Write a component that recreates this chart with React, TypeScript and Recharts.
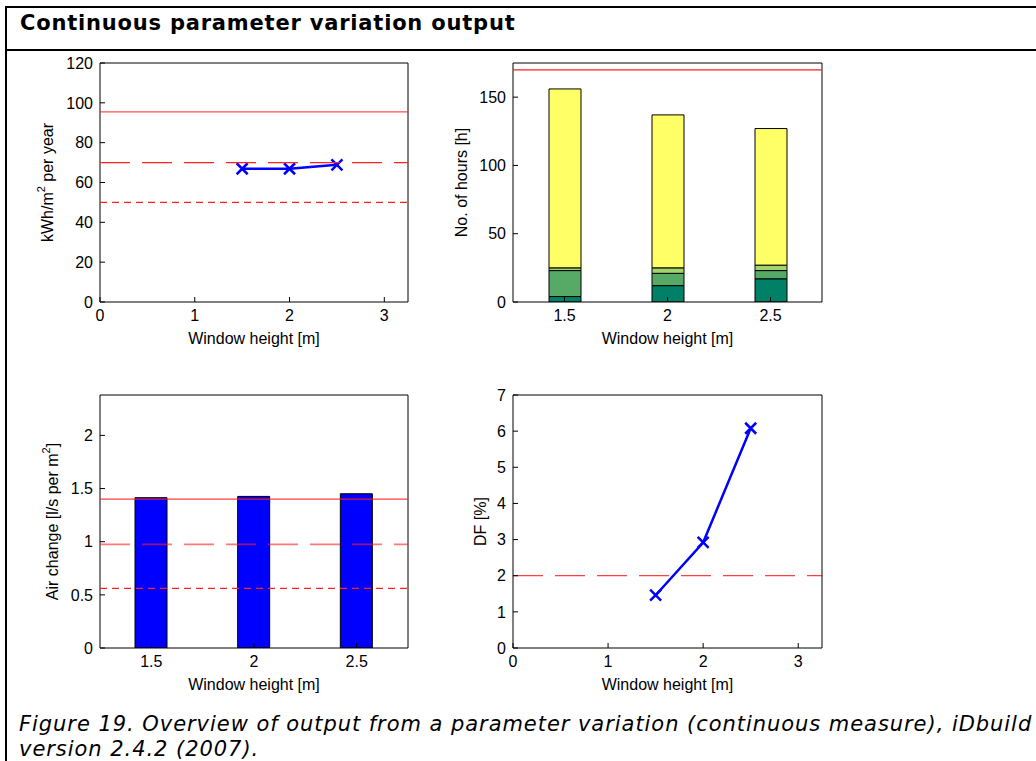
import React from 'react';
import { LineChart, Line, BarChart, Bar, XAxis, YAxis, ReferenceLine, Label } from 'recharts';

// ---------- data ----------
const windowHeights = [1.5, 2, 2.5];
const windowCats = ['1.5', '2', '2.5'];

const energyValues = [66.9, 66.9, 68.9];
const energyRefSolid = 95.5;
const energyRefLong = 70;
const energyRefShort = 50;
const energyYTicks = [0, 20, 40, 60, 80, 100, 120];

const hoursDark = [4, 12, 17];
const hoursMid = [19, 9, 6];
const hoursLight = [2, 4, 4];
const hoursYellow = [131, 112, 100];
const hoursLimit = 170;
const hoursYTicks = [0, 50, 100, 150];

const airValues = [1.414, 1.426, 1.451];
const airRefSolid = 1.4;
const airRefLong = 0.975;
const airRefShort = 0.56;
const airYTicks = [0, 0.5, 1, 1.5, 2];

const dfValues = [1.46, 2.92, 6.08];
const dfRef = 2;
const dfYTicks = [0, 1, 2, 3, 4, 5, 6, 7];

const xNumTicks = [0, 1, 2, 3];

const energyData = windowHeights.map((x, i) => ({ x, y: energyValues[i] }));
const dfData = windowHeights.map((x, i) => ({ x, y: dfValues[i] }));
const hoursData = windowCats.map((x, i) => ({
  x,
  dark: hoursDark[i],
  mid: hoursMid[i],
  light: hoursLight[i],
  yellow: hoursYellow[i],
}));
const airData = windowCats.map((x, i) => ({ x, v: airValues[i] }));

// ---------- styles ----------
const FONT = '"Liberation Sans", Arial, sans-serif';
const tickStyle = { fontSize: 16, fill: '#000', fontFamily: FONT };
const RED = '#ff2020';
const LONG_DASH = '30 12';
const SHORT_DASH = '7 5';
const M = { top: 0, right: 0, bottom: 0, left: 0 };

function XMark(props: any) {
  const { cx, cy } = props;
  if (cx == null || cy == null) return null;
  const s = 5.5;
  return (
    <path
      d={`M${cx - s},${cy - s}L${cx + s},${cy + s}M${cx - s},${cy + s}L${cx + s},${cy - s}`}
      stroke="#0000ff"
      strokeWidth={2.5}
      fill="none"
    />
  );
}

const yLabel = (parts: React.ReactNode, dx: number) => (props: any) => {
  const vb = props.viewBox || {};
  const cx = vb.x + dx;
  const cy = vb.y + vb.height / 2;
  return (
    <text
      x={cx}
      y={cy}
      transform={`rotate(-90 ${cx} ${cy})`}
      textAnchor="middle"
      dominantBaseline="central"
      fontSize={16}
      fontFamily={FONT}
      fill="#000"
    >
      {parts}
    </text>
  );
};

const xLabel = (text: string) => (props: any) => {
  const vb = props.viewBox || {};
  const cx = vb.x + vb.width / 2;
  const cy = vb.y + 36;
  return (
    <text x={cx} y={cy} textAnchor="middle" dominantBaseline="central" fontSize={16} fontFamily={FONT} fill="#000">
      {text}
    </text>
  );
};

const sup = (base: string, tail: string) => (
  <>
    {base}
    <tspan dy={-6} fontSize={11}>2</tspan>
    <tspan dy={6}>{tail}</tspan>
  </>
);

const box: React.CSSProperties = { position: 'absolute' };
const onTop: any = { zIndex: 1000 };

export default function App() {
  return (
    <div style={{ position: 'absolute', left: 0, top: 0, width: 1036, height: 761, background: '#fff', overflow: 'hidden' }}>
      {/* frame */}
      <div style={{ ...box, left: 5, top: 6, width: 2, height: 755, background: '#000' }} />
      <div style={{ ...box, left: 5, top: 6, width: 1031, height: 2, background: '#000' }} />
      <div style={{ ...box, left: 5, top: 49, width: 1031, height: 2, background: '#000' }} />
      <div
        style={{
          ...box,
          left: 20,
          top: 8,
          height: 30,
          lineHeight: '30px',
          fontFamily: '"DejaVu Sans", Verdana, sans-serif',
          fontWeight: 'bold',
          fontSize: 21,
          letterSpacing: 0.8,
          whiteSpace: 'nowrap',
          color: '#000',
        }}
      >
        Continuous parameter variation output
      </div>

      {/* Top-left: energy */}
      <div style={{ ...box, left: 0, top: 50 }}>
        <LineChart width={420} height={300} data={energyData} margin={M}>
          <XAxis xAxisId={0} type="number" dataKey="x" domain={[0, 3.25]} ticks={xNumTicks} interval={0} height={48}
            tickSize={-5} tickMargin={13} tick={tickStyle} stroke="#000" allowDataOverflow>
            <Label content={xLabel('Window height [m]')} />
          </XAxis>
          <XAxis xAxisId="top" orientation="top" type="number" dataKey="x" domain={[0, 3.25]} ticks={xNumTicks} interval={0}
            height={13} tickSize={-5} tick={false} stroke="#000" allowDataOverflow />
          <YAxis yAxisId={0} type="number" domain={[0, 120]} ticks={energyYTicks} interval={0} width={100}
            tickSize={-5} tickMargin={12} tick={tickStyle} stroke="#000" allowDataOverflow>
            <Label content={yLabel(sup('kWh/m', ' per year'), 47)} />
          </YAxis>
          <YAxis yAxisId="right" orientation="right" type="number" domain={[0, 120]} ticks={energyYTicks} interval={0}
            width={12} tickSize={-5} tick={false} stroke="#000" allowDataOverflow />
          <ReferenceLine y={energyRefSolid} stroke={RED} strokeWidth={1.3} strokeOpacity={0.8} {...onTop} />
          <ReferenceLine y={energyRefLong} stroke={RED} strokeWidth={1.3} strokeDasharray={LONG_DASH} {...onTop} />
          <ReferenceLine y={energyRefShort} stroke={RED} strokeWidth={1.3} strokeDasharray={SHORT_DASH} {...onTop} />
          <Line dataKey="y" stroke="#0000ff" strokeWidth={2.5} dot={<XMark />} activeDot={false} isAnimationActive={false} />
        </LineChart>
      </div>

      {/* Top-right: hours */}
      <div style={{ ...box, left: 420, top: 50 }}>
        <BarChart width={420} height={300} data={hoursData} margin={M}>
          <XAxis xAxisId={0} type="category" dataKey="x" interval={0} height={48}
            tickSize={-5} tickMargin={13} tick={tickStyle} stroke="#000">
            <Label content={xLabel('Window height [m]')} />
          </XAxis>
          <XAxis xAxisId="top" orientation="top" type="category" dataKey="x" interval={0}
            height={13} tickSize={-5} tick={false} stroke="#000" />
          <YAxis yAxisId={0} type="number" domain={[0, 175]} ticks={hoursYTicks} interval={0} width={93}
            tickSize={-5} tickMargin={12} tick={tickStyle} stroke="#000" allowDataOverflow>
            <Label content={yLabel('No. of hours [h]', 41)} />
          </YAxis>
          <YAxis yAxisId="right" orientation="right" type="number" domain={[0, 175]} ticks={hoursYTicks} interval={0}
            width={18} tickSize={-5} tick={false} stroke="#000" allowDataOverflow />
          <Bar dataKey="dark" stackId="s" fill="#008066" stroke="#000" strokeWidth={1} barSize={32} isAnimationActive={false} />
          <Bar dataKey="mid" stackId="s" fill="#56aa66" stroke="#000" strokeWidth={1} barSize={32} isAnimationActive={false} />
          <Bar dataKey="light" stackId="s" fill="#a2d46e" stroke="#000" strokeWidth={1} barSize={32} isAnimationActive={false} />
          <Bar dataKey="yellow" stackId="s" fill="#ffff66" stroke="#000" strokeWidth={1} barSize={32} isAnimationActive={false} />
          <ReferenceLine y={hoursLimit} stroke={RED} strokeWidth={1.3} {...onTop} />
        </BarChart>
      </div>

      {/* Bottom-left: air change */}
      <div style={{ ...box, left: 0, top: 380 }}>
        <BarChart width={420} height={320} data={airData} margin={M}>
          <XAxis xAxisId={0} type="category" dataKey="x" interval={0} height={52}
            tickSize={-5} tickMargin={13} tick={tickStyle} stroke="#000">
            <Label content={xLabel('Window height [m]')} />
          </XAxis>
          <XAxis xAxisId="top" orientation="top" type="category" dataKey="x" interval={0}
            height={15} tickSize={-5} tick={false} stroke="#000" />
          <YAxis yAxisId={0} type="number" domain={[0, 2.38]} ticks={airYTicks} interval={0} width={100}
            tickSize={-5} tickMargin={12} tick={tickStyle} stroke="#000" allowDataOverflow>
            <Label content={yLabel(sup('Air change [l/s per m', ']'), 52)} />
          </YAxis>
          <YAxis yAxisId="right" orientation="right" type="number" domain={[0, 2.38]} ticks={airYTicks} interval={0}
            width={12} tickSize={-5} tick={false} stroke="#000" allowDataOverflow />
          <Bar dataKey="v" fill="#0000ff" stroke="#000" strokeWidth={1} barSize={32} isAnimationActive={false} />
          <ReferenceLine y={airRefSolid} stroke={RED} strokeWidth={1.3} strokeOpacity={0.85} {...onTop} />
          <ReferenceLine y={airRefLong} stroke={RED} strokeWidth={1.8} strokeOpacity={0.6} strokeDasharray={LONG_DASH} {...onTop} />
          <ReferenceLine y={airRefShort} stroke={RED} strokeWidth={1.3} strokeDasharray={SHORT_DASH} {...onTop} />
        </BarChart>
      </div>

      {/* Bottom-right: daylight factor */}
      <div style={{ ...box, left: 420, top: 380 }}>
        <LineChart width={420} height={320} data={dfData} margin={M}>
          <XAxis xAxisId={0} type="number" dataKey="x" domain={[0, 3.25]} ticks={xNumTicks} interval={0} height={52}
            tickSize={-5} tickMargin={13} tick={tickStyle} stroke="#000" allowDataOverflow>
            <Label content={xLabel('Window height [m]')} />
          </XAxis>
          <XAxis xAxisId="top" orientation="top" type="number" dataKey="x" domain={[0, 3.25]} ticks={xNumTicks} interval={0}
            height={15} tickSize={-5} tick={false} stroke="#000" allowDataOverflow />
          <YAxis yAxisId={0} type="number" domain={[0, 7]} ticks={dfYTicks} interval={0} width={93}
            tickSize={-5} tickMargin={12} tick={tickStyle} stroke="#000" allowDataOverflow>
            <Label content={yLabel('DF [%]', 60)} />
          </YAxis>
          <YAxis yAxisId="right" orientation="right" type="number" domain={[0, 7]} ticks={dfYTicks} interval={0}
            width={18} tickSize={-5} tick={false} stroke="#000" allowDataOverflow />
          <ReferenceLine y={dfRef} stroke={RED} strokeWidth={1.3} strokeOpacity={0.85} strokeDasharray={LONG_DASH} />
          <Line dataKey="y" stroke="#0000ff" strokeWidth={2.5} dot={<XMark />} activeDot={false} isAnimationActive={false} />
        </LineChart>
      </div>

      {/* caption */}
      <div
        style={{
          ...box,
          left: 19,
          top: 712,
          lineHeight: '25px',
          fontFamily: '"DejaVu Sans", Verdana, sans-serif',
          fontStyle: 'italic',
          fontSize: 21,
          letterSpacing: 0.95,
          whiteSpace: 'nowrap',
          color: '#000',
        }}
      >
        Figure 19. Overview of output from a parameter variation (continuous measure), iDbuild
        <br />
        version 2.4.2 (2007).
      </div>
    </div>
  );
}
